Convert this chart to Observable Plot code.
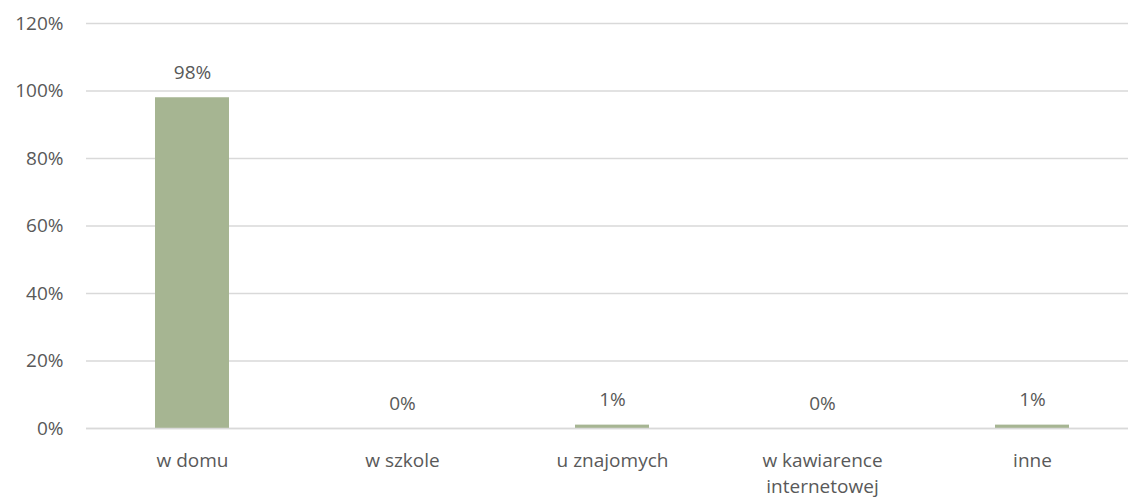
<!DOCTYPE html>
<html>
<head>
<meta charset="utf-8">
<script src="https://cdn.jsdelivr.net/npm/d3@7"></script>
<script src="https://cdn.jsdelivr.net/npm/@observablehq/plot@0.6"></script>
<style>
  html, body { margin: 0; padding: 0; background: #fff; overflow: hidden; }
  #chart svg { display: block; }
</style>
</head>
<body>
<div id="chart"></div>
<script>
const categories = ["w domu", "w szkole", "u znajomych", "w kawiarence\ninternetowej", "inne"];
const values = [98, 0, 1, 0, 1];
const yTicks = [0, 20, 40, 60, 80, 100, 120];

const data = categories.map((c, i) => ({category: c, value: values[i]}));

const textColor = "#595959";
const font = "'Open Sans', sans-serif";
const fs = 19;

const chart = Plot.plot({
  width: 1128,
  height: 499,
  marginLeft: 86,
  marginRight: -9,
  marginTop: 23,
  marginBottom: 71,
  style: {fontFamily: font, fontSize: fs + "px", color: textColor, background: "#fff"},
  x: {domain: categories, paddingInner: 0.648, paddingOuter: 0.324, label: null},
  y: {domain: [0, 120], label: null},
  marks: [
    Plot.gridY(yTicks, {stroke: "#d9d9d9", strokeOpacity: 1, strokeWidth: 1.5}),
    Plot.barY(data, {x: "category", y: "value", fill: "#a6b592"}),
    Plot.ruleY([0], {stroke: "#d9d9d9", strokeWidth: 1.5}),
    Plot.text(data, {x: "category", y: "value", text: d => d.value + "%", dy: -25, fill: textColor, fontSize: fs}),
    Plot.axisY(yTicks, {tickSize: 0, tickPadding: 23, tickFormat: d => d + "%", fill: textColor, fontSize: fs}),
    Plot.axisX({tickSize: 0, tickPadding: 20, fill: textColor, fontSize: fs, lineHeight: 1.37})
  ]
});
document.getElementById("chart").appendChild(chart);
</script>
</body>
</html>
